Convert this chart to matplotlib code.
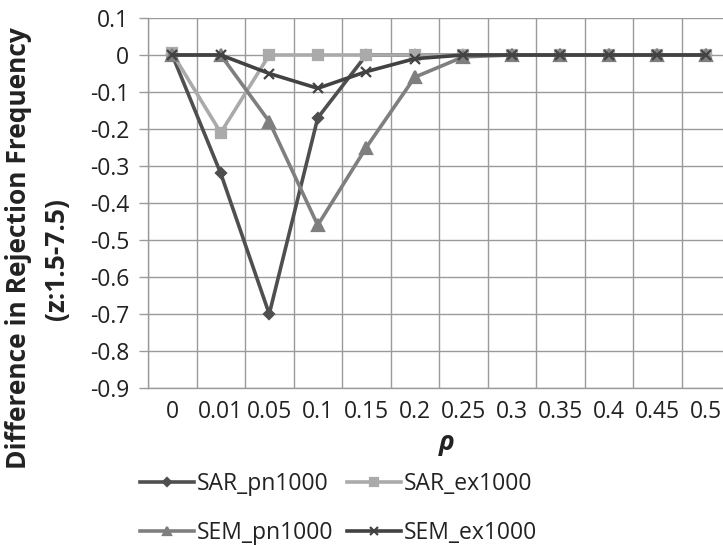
import matplotlib
matplotlib.use("Agg")
import matplotlib.pyplot as plt
import numpy as np

rho_labels = ["0", "0.01", "0.05", "0.1", "0.15", "0.2", "0.25", "0.3", "0.35", "0.4", "0.45", "0.5"]
sar_pn1000 = [0.0, -0.32, -0.70, -0.17, 0.0, 0.0, 0.0, 0.0, 0.0, 0.0, 0.0, 0.0]
sar_ex1000 = [0.005, -0.21, 0.0, 0.0, 0.0, 0.0, 0.0, 0.0, 0.0, 0.0, 0.0, 0.0]
sem_pn1000 = [0.0, 0.0, -0.18, -0.46, -0.25, -0.06, -0.005, 0.0, 0.0, 0.0, 0.0, 0.0]
sem_ex1000 = [0.0, 0.0, -0.05, -0.09, -0.045, -0.01, 0.0, 0.0, 0.0, 0.0, 0.0, 0.0]
y_ticks = [0.1, 0, -0.1, -0.2, -0.3, -0.4, -0.5, -0.6, -0.7, -0.8, -0.9]

plt.rcParams["font.family"] = ["Open Sans", "DejaVu Sans"]
TXT = "#222222"
GRID = "#9a9a9a"

W, H = 723, 545
fig = plt.figure(figsize=(W / 100, H / 100), dpi=100)
ax = fig.add_axes([148 / W, 1 - 388 / H, (730 - 148) / W, (388 - 18) / H])

x = np.arange(len(rho_labels))
series = [
    ("SAR_pn1000", sar_pn1000, "#4f4f4f", "D", 5.5),
    ("SAR_ex1000", sar_ex1000, "#aaaaaa", "s", 7.5),
    ("SEM_pn1000", sem_pn1000, "#7f7f7f", "^", 8),
    ("SEM_ex1000", sem_ex1000, "#424242", "x", 7),
]
handles = {}
for name, vals, col, mk, ms in series:
    (h,) = ax.plot(x, vals, color=col, lw=2.6, marker=mk, ms=ms, mew=1.6,
                   mfc=col, mec=col, label=name, zorder=3)
    handles[name] = h

ax.set_xlim(-0.5, len(rho_labels) - 0.5)
ax.set_ylim(-0.9, 0.1)
ax.set_yticks(y_ticks)
ax.set_yticklabels([("%g" % v) for v in y_ticks])
ax.set_xticks(x)
ax.set_xticklabels(rho_labels)
ax.set_xticks(np.arange(len(rho_labels) + 1) - 0.5, minor=True)

ax.grid(True, axis="y", which="major", color=GRID, lw=1)
ax.grid(True, axis="x", which="minor", color=GRID, lw=1)
ax.set_axisbelow(True)

ax.tick_params(axis="x", which="major", length=0, pad=9, labelsize=16.5, colors=TXT)
ax.tick_params(axis="x", which="minor", length=0)
ax.tick_params(axis="y", which="major", length=6.5, color=GRID, width=1,
               labelsize=16.5, pad=7, labelcolor=TXT)
for s in ["top", "right"]:
    ax.spines[s].set_visible(False)
for s in ["left", "bottom"]:
    ax.spines[s].set_color(GRID)
    ax.spines[s].set_linewidth(1)

# axis titles
fig.text(447 / W, 1 - 442 / H, "ρ", fontsize=19, fontweight="bold", style="italic",
         ha="center", va="center", color=TXT)
fig.text(19 / W, 1 - 248 / H, "Difference in Rejection Frequency", fontsize=19,
         fontweight="bold", rotation=90, ha="center", va="center", color=TXT)
fig.text(56 / W, 1 - 259 / H, "(z:1.5-7.5)", fontsize=19,
         fontweight="bold", rotation=90, ha="center", va="center", color=TXT)

# legend, filled row by row
order = ["SAR_pn1000", "SEM_pn1000", "SAR_ex1000", "SEM_ex1000"]
leg = fig.legend([handles[n] for n in order], order, loc="upper left",
                 bbox_to_anchor=(140 / W, 1 - 472 / H), ncol=2, frameon=False,
                 fontsize=16.5, handlelength=2.35, handletextpad=0.12,
                 columnspacing=0.62, labelspacing=1.1, borderpad=0,
                 borderaxespad=0, markerscale=0.8)
for t in leg.get_texts():
    t.set_color(TXT)

fig.savefig("out.png", dpi=100)
